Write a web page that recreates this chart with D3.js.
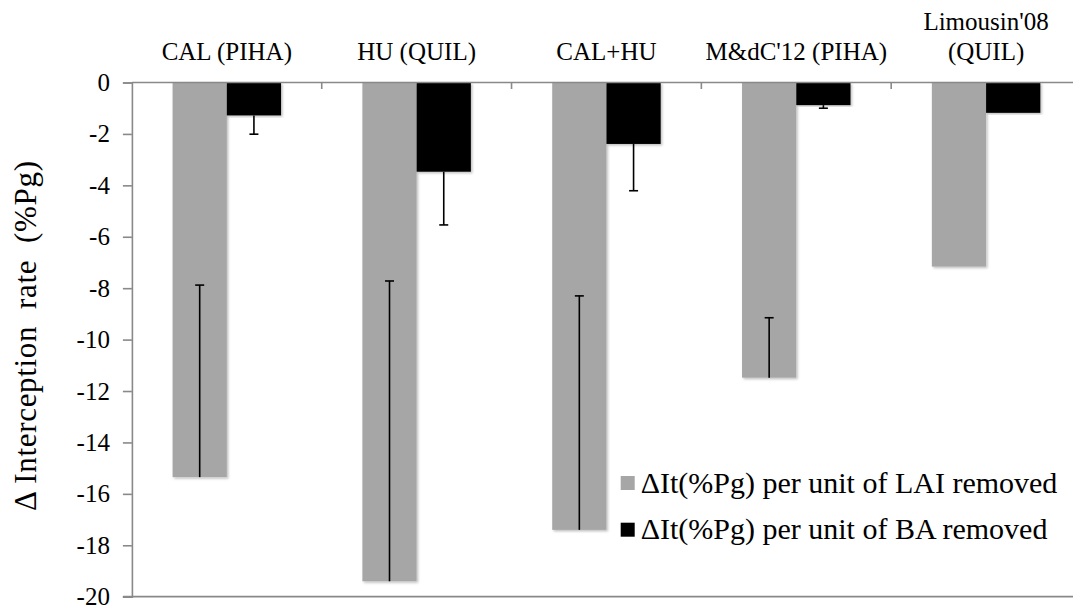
<!DOCTYPE html>
<html>
<head>
<meta charset="utf-8">
<script src="https://cdn.jsdelivr.net/npm/d3@7"></script>
<style>
  html, body { margin: 0; padding: 0; background: #fff; }
  svg { display: block; }
</style>
</head>
<body>
<div id="chart"></div>
<script>
// categories (site / study), top labels split on lines
const categories = ['CAL (PIHA)', 'HU (QUIL)', 'CAL+HU', "M&dC'12 (PIHA)", "Limousin'08 (QUIL)"];
const categoryLines = [['CAL (PIHA)'], ['HU (QUIL)'], ['CAL+HU'], ["M&dC'12 (PIHA)"], ["Limousin'08", '(QUIL)']];

// series: change in interception per unit LAI / BA removed (%Pg)
const seriesNames = ['ΔIt(%Pg) per unit of LAI removed', 'ΔIt(%Pg) per unit of BA removed'];
const laiValues = [-15.35, -19.4, -17.4, -11.48, -7.16];
const baValues = [-1.28, -3.47, -2.39, -0.88, -1.18];
// error bar lengths (LAI bars drawn toward zero, BA bars away from zero)
const laiErrors = [7.47, 11.68, 9.1, 2.33, 0];
const baErrors = [0.73, 2.07, 1.82, 0.12, 0];

const yTicks = [0, -2, -4, -6, -8, -10, -12, -14, -16, -18, -20];

const width = 1073, height = 613;
const margin = { left: 131.9, right: -8, top: 82.5, bottom: 16.3 };
const colors = ['#a6a6a6', '#000000'];
const axisColor = '#898989';
const font = 'Liberation Serif';

const svg = d3.select('#chart').append('svg')
  .attr('width', width)
  .attr('height', height)
  .attr('font-family', font);

svg.append('rect').attr('width', width).attr('height', height).attr('fill', '#fff');

const defs = svg.append('defs');
defs.append('filter')
  .attr('id', 'shadow')
  .attr('x', '-20%').attr('y', '-5%').attr('width', '140%').attr('height', '110%')
  .append('feDropShadow')
  .attr('dx', 1.5).attr('dy', 1.5)
  .attr('stdDeviation', 1.2)
  .attr('flood-color', '#000')
  .attr('flood-opacity', 0.25);

const y = d3.scaleLinear()
  .domain([-20, 0])
  .range([height - margin.bottom, margin.top]);

const x = d3.scaleBand()
  .domain(categories)
  .range([margin.left, width - margin.right])
  .paddingInner(0)
  .paddingOuter(0);

// Excel-like gap width of 150%
const barW = x.bandwidth() / 3.5;
const xSub = d3.scaleBand()
  .domain([0, 1])
  .range([x.bandwidth() / 2 - barW, x.bandwidth() / 2 + barW]);

const rows = categories.map((c, i) => ({
  cat: c,
  bars: [
    { s: 0, v: laiValues[i], lo: laiValues[i], hi: laiValues[i] + laiErrors[i], err: laiErrors[i] },
    { s: 1, v: baValues[i], lo: baValues[i] - baErrors[i], hi: baValues[i], err: baErrors[i] }
  ]
}));

// bars
const groups = svg.append('g').selectAll('g')
  .data(rows)
  .enter()
  .append('g')
  .attr('transform', d => `translate(${x(d.cat)},0)`);

groups.selectAll('rect')
  .data(d => d.bars)
  .enter()
  .append('rect')
  .attr('x', d => xSub(d.s))
  .attr('y', y(0))
  .attr('width', xSub.bandwidth())
  .attr('height', d => y(d.v) - y(0))
  .attr('fill', d => colors[d.s])
  .attr('filter', 'url(#shadow)');

// error bars
const errs = groups.selectAll('g.err')
  .data(d => d.bars.filter(b => b.err > 0))
  .enter()
  .append('g')
  .attr('class', 'err')
  .attr('transform', d => `translate(${xSub(d.s) + xSub.bandwidth() / 2},0)`);

errs.append('line')
  .attr('y1', d => y(d.lo))
  .attr('y2', d => y(d.hi))
  .attr('stroke', '#000')
  .attr('stroke-width', 1.6);

errs.append('line')
  .attr('x1', -4.5).attr('x2', 4.5)
  .attr('y1', d => d.s === 0 ? y(d.hi) : y(d.lo))
  .attr('y2', d => d.s === 0 ? y(d.hi) : y(d.lo))
  .attr('stroke', '#000')
  .attr('stroke-width', 1.6);

// y axis
const yAxis = svg.append('g')
  .attr('transform', `translate(${margin.left},0)`)
  .call(d3.axisLeft(y).tickValues(yTicks).tickSize(9).tickPadding(13).tickFormat(d => String(d)))
  .attr('font-family', font)
  .attr('font-size', 25);
yAxis.select('.domain').attr('stroke', axisColor).attr('stroke-width', 1.6);
yAxis.selectAll('.tick line').attr('stroke', axisColor).attr('stroke-width', 1.6);
yAxis.selectAll('.tick text')
  .attr('font-family', font)
  .attr('font-size', 25)
  .attr('fill', '#000');

// category axis along zero, ticks pointing down
const catAxis = svg.append('g').attr('transform', `translate(0,${y(0)})`);
catAxis.append('line')
  .attr('x1', margin.left).attr('x2', width - margin.right)
  .attr('stroke', axisColor).attr('stroke-width', 1.6);
catAxis.selectAll('line.tk')
  .data(categories.slice(1))
  .enter()
  .append('line')
  .attr('class', 'tk')
  .attr('x1', d => x(d)).attr('x2', d => x(d))
  .attr('y1', 0).attr('y2', 6.5)
  .attr('stroke', axisColor).attr('stroke-width', 1.6);

// bottom border line
svg.append('line')
  .attr('x1', margin.left - 9).attr('x2', width - margin.right)
  .attr('y1', y(-20)).attr('y2', y(-20))
  .attr('stroke', axisColor).attr('stroke-width', 1.8);

// category labels above the plot
svg.append('g').selectAll('text')
  .data(rows)
  .enter()
  .append('text')
  .attr('text-anchor', 'middle')
  .attr('font-family', font)
  .attr('font-size', 25)
  .each(function (d, i) {
    const lines = categoryLines[i];
    const t = d3.select(this);
    lines.forEach((ln, k) => {
      t.append('tspan')
        .attr('x', x(d.cat) + x.bandwidth() / 2)
        .attr('y', 60 - (lines.length - 1 - k) * 30)
        .text(ln);
    });
  });

// y axis title
svg.append('text')
  .attr('transform', `translate(36,336) rotate(-90)`)
  .attr('text-anchor', 'middle')
  .attr('font-family', font)
  .attr('font-size', 31)
  .attr('textLength', 350)
  .attr('lengthAdjust', 'spacing')
  .attr('xml:space', 'preserve')
  .style('white-space', 'pre')
  .text('Δ Interception  rate  (%Pg)');

// legend
const legend = svg.append('g').attr('transform', 'translate(620.7,476)');
const items = legend.selectAll('g')
  .data(seriesNames)
  .enter()
  .append('g')
  .attr('transform', (d, i) => `translate(0,${i * 46.7})`);
items.append('rect')
  .attr('width', 14).attr('height', 14)
  .attr('fill', (d, i) => colors[i]);
items.append('text')
  .attr('x', 20)
  .attr('y', 16.5)
  .attr('font-family', font)
  .attr('font-size', 30)
  .text(d => d);
</script>
</body>
</html>
